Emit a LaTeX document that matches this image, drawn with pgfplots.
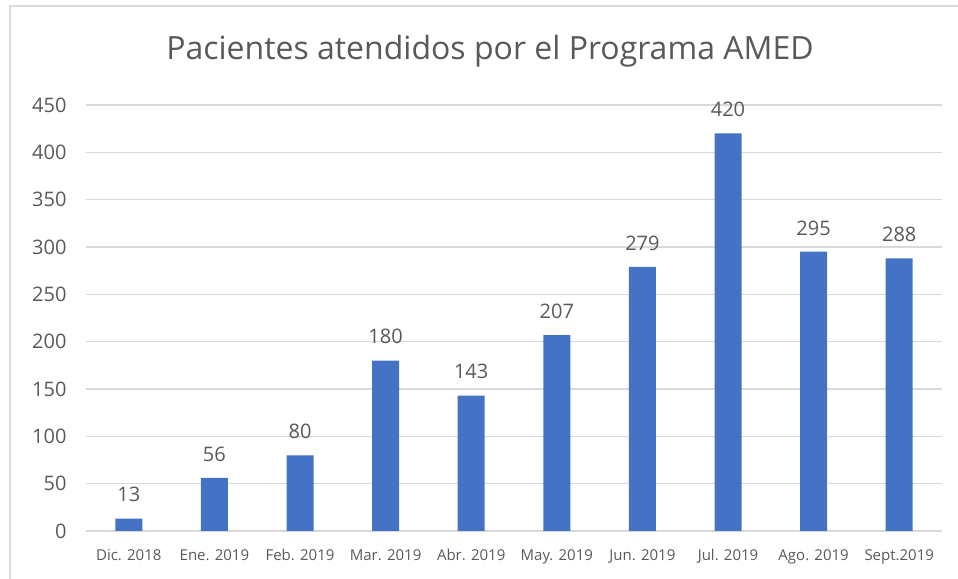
\documentclass[border=0pt]{standalone}
\usepackage{fontspec}
\setmainfont{Open Sans}
\usepackage{pgfplots}
\pgfplotsset{compat=1.18}
\definecolor{barblue}{HTML}{4472C4}
\definecolor{gridgray}{HTML}{D9D9D9}
\definecolor{txtgray}{HTML}{595959}
\begin{document}
\begin{tikzpicture}[x=1bp,y=1bp]
  % canvas and chart-area frame
  \path[use as bounding box] (0,0) rectangle (958,579);
  \draw[gridgray, line width=1.5bp] (10,0) -- (10,573) -- (958,573);
  \node[txtgray, font=\fontsize{32bp}{38bp}\selectfont] at (490,528) {Pacientes atendidos por el Programa AMED};
  \begin{axis}[
    at={(86bp,48bp)}, anchor=south west,
    scale only axis,
    width=856bp, height=426bp,
    xmin=-0.5, xmax=9.5,
    ymin=0, ymax=450,
    ytick={0,50,...,450},
    xtick=data,
    xticklabels={Dic. 2018, Ene. 2019, Feb. 2019, Mar. 2019, Abr. 2019, May. 2019, Jun. 2019, Jul. 2019, Ago. 2019, Sept.2019},
    axis line style={draw=none},
    major tick length=0pt,
    ymajorgrids,
    grid style={gridgray, line width=1.2bp},
    /pgf/number format/assume math mode=true,
    yticklabel style={txtgray, font=\fontsize{20bp}{24bp}\selectfont, xshift=-16bp},
    xticklabel style={txtgray, font=\fontsize{15bp}{18bp}\selectfont, yshift=-15bp},
    nodes near coords,
    nodes near coords style={txtgray, font=\fontsize{20bp}{24bp}\selectfont, yshift=13bp},
    clip=false,
  ]
    \addplot[ybar, bar width=27bp, fill=barblue, draw=none] coordinates {
      (0,13) (1,56) (2,80) (3,180) (4,143)
      (5,207) (6,279) (7,420) (8,295) (9,288)
    };
  \end{axis}
\end{tikzpicture}
\end{document}
